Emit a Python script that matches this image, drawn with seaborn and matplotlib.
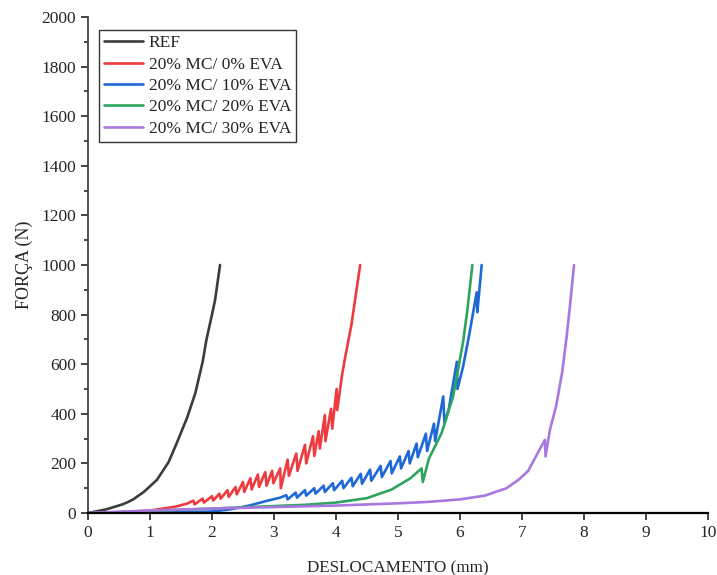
import matplotlib
matplotlib.use("Agg")
import matplotlib.pyplot as plt
from matplotlib.ticker import MultipleLocator
import seaborn as sns
import pandas as pd

sns.set_style("ticks")
plt.rcParams['font.family'] = ['Liberation Serif', 'DejaVu Serif']

#=======================================================================
#                                  Data
#=======================================================================
labels = ['REF', '20% MC/ 0% EVA', '20% MC/ 10% EVA', '20% MC/ 20% EVA', '20% MC/ 30% EVA']
colors = ['#3c3c3c', '#ee3b3f', '#1f68d8', '#2ea55e', '#a878e0']

ref_x = [0, 0.3, 0.57, 0.65, 0.73, 0.9, 1.11, 1.3, 1.43, 1.6, 1.73, 1.85, 1.91, 2.0, 2.05, 2.13]
ref_y = [0, 15, 36, 45, 55, 85, 133, 205, 281, 385, 482, 610, 698, 800, 859, 1000]

mc0_x = [0, 0.5, 1.0, 1.4, 1.6, 1.7, 1.72, 1.85, 1.87, 2.0, 2.02, 2.12, 2.14, 2.25, 2.27,
         2.38, 2.40, 2.5, 2.52, 2.62, 2.64, 2.74, 2.76, 2.86, 2.88, 2.97, 2.99, 3.10, 3.11,
         3.22, 3.24, 3.36, 3.38, 3.50, 3.52, 3.63, 3.65, 3.72, 3.74, 3.82, 3.83, 3.92, 3.94,
         4.01, 4.02, 4.10, 4.15, 4.25, 4.32, 4.39]
mc0_y = [0, 3, 10, 25, 38, 50, 35, 58, 42, 68, 50, 78, 58, 92, 65,
         105, 75, 125, 85, 140, 95, 155, 105, 165, 110, 170, 120, 180, 100,
         215, 150, 240, 170, 275, 200, 310, 230, 330, 260, 395, 290, 420, 340,
         500, 415, 560, 630, 760, 880, 1000]

mc10_x = [0, 1.0, 1.5, 2.0, 2.3, 2.6, 2.9, 3.1, 3.2, 3.22, 3.35, 3.37, 3.5, 3.52, 3.65, 3.67,
          3.8, 3.82, 3.95, 3.97, 4.1, 4.12, 4.25, 4.27, 4.4, 4.42, 4.55, 4.57, 4.72, 4.74,
          4.88, 4.90, 5.03, 5.05, 5.17, 5.19, 5.30, 5.32, 5.45, 5.47, 5.58, 5.60, 5.73, 5.75,
          5.82, 5.95, 5.96, 6.05, 6.15, 6.27, 6.28, 6.35]
mc10_y = [0, 2, 3, 6, 15, 30, 50, 62, 72, 55, 82, 62, 92, 70, 100, 78,
          110, 85, 120, 92, 130, 100, 142, 108, 158, 118, 175, 130, 190, 145,
          210, 160, 228, 180, 250, 200, 280, 225, 320, 250, 360, 290, 470, 360,
          420, 610, 500, 590, 720, 890, 810, 1000]

mc20_x = [0, 1.0, 2.0, 3.0, 3.5, 4.0, 4.5, 4.9, 5.2, 5.38, 5.40, 5.5, 5.7, 5.89, 6.05, 6.12, 6.2]
mc20_y = [0, 8, 18, 28, 33, 42, 60, 95, 140, 180, 125, 220, 320, 470, 690, 820, 1000]

mc30_x = [0, 1.0, 2.0, 3.0, 4.0, 5.0, 5.5, 6.0, 6.4, 6.75, 6.95, 7.1, 7.25, 7.37, 7.38,
          7.45, 7.55, 7.65, 7.72, 7.78, 7.84]
mc30_y = [0, 10, 18, 24, 30, 39, 45, 55, 70, 100, 135, 170, 240, 295, 228,
          335, 430, 570, 710, 850, 1000]

series = [(ref_x, ref_y), (mc0_x, mc0_y), (mc10_x, mc10_y), (mc20_x, mc20_y), (mc30_x, mc30_y)]

#=======================================================================
#                                  Plot
#=======================================================================
fig = plt.figure(figsize=(7.17, 5.75), dpi=100)
ax = fig.add_axes([0.1227, 0.1078, 0.8647, 0.8626])

for (xs, ys), lab, col in zip(series, labels, colors):
    df = pd.DataFrame({'x': xs, 'y': ys})
    sns.lineplot(data=df, x='x', y='y', ax=ax, color=col, label=lab,
                 sort=False, estimator=None, lw=1.9)

ax.set_xlim(0, 10)
ax.set_ylim(0, 2000)
ax.xaxis.set_major_locator(MultipleLocator(1))
ax.yaxis.set_major_locator(MultipleLocator(200))
ax.yaxis.set_minor_locator(MultipleLocator(100))
ax.tick_params(axis='both', which='major', labelsize=12.5, direction='out', length=5, width=1.2)
ax.tick_params(axis='y', which='minor', direction='out', length=3, width=1.2)
ax.set_xlabel('DESLOCAMENTO (mm)', fontsize=12.3, labelpad=14)
ax.set_ylabel('FORÇA (N)', fontsize=13, labelpad=6)
sns.despine(ax=ax)
ax.spines['bottom'].set_linewidth(1.6)
ax.spines['bottom'].set_color('k')
ax.spines['left'].set_linewidth(1.3)
ax.spines['left'].set_color('#444444')

legend = ax.legend(loc='upper left', bbox_to_anchor=(0.018, 0.974), fontsize=12.5,
                   frameon=True, fancybox=False, handlelength=2.2, handletextpad=0.35,
                   borderpad=0.3, labelspacing=0.3, borderaxespad=0)
legend.get_frame().set_edgecolor('k')
legend.get_frame().set_linewidth(1.0)

plt.savefig("out.png", dpi=100)
